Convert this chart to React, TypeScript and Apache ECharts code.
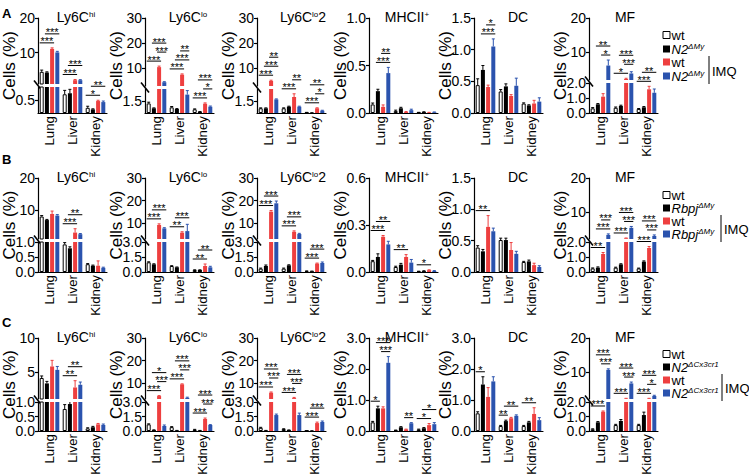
import { useEffect, useRef } from "react";
import * as echarts from "echarts";

type Sig = [number, number, string];
type Seg = { min: number; max: number; ticks: number[] };
type Panel = {
  title: [string, string, string];
  mean: number[][];
  err: number[][];
  sig: Sig[][];
  low: Seg;
  high?: Seg;
  lowH?: number;
};

const ORGANS = ["Lung", "Liver", "Kidney"];
// group order in every panel: wt, knockout, wt + IMQ, knockout + IMQ
const FILL = ["#ffffff", "#000000", "#ee3f3f", "#2b53ae"];
const STROKE = ["#000000", "#000000", "#ee3f3f", "#2b53ae"];

// tick labels
const hiLowTicks = [0, 0.5, 1.0];
const hiHighTicks = [10, 20];
const hiHighTicksC = [5, 10];
const loLowTicks = [0, 1.5, 3.0];
const loHighTicks = [10, 20, 30];
const mfLowTicks = [0, 1.0, 2.0];
const mfHighTicks = [10, 20];
const mhcTicksA = [0, 0.5, 1.0];
const mhcTicksB = [0, 0.3, 0.6];
const mhcTicksC = [0, 1.0, 2.0, 3.0];
const dcTicksAB = [0, 0.5, 1.0, 1.5];
const dcTicksC = [0, 1.0, 2.0, 3.0];

// ---- A: N2ΔMy ----
const aHiMean = [[4.5, 4.3, 11.1, 10.1], [0.72, 0.76, 2.1, 2.1], [0.2, 0.14, 0.46, 0.42]];
const aHiErr = [[0.5, 0.2, 0.3, 0.3], [0.15, 0.15, 0.2, 0.15], [0.06, 0.02, 0.03, 0.04]];
const aHiSig: Sig[][] = [[[0, 2, "***"], [1, 3, "***"]], [[0, 2, "***"], [1, 3, "***"]], [[0, 2, "*"], [1, 3, "**"]]];

const aLoMean = [[1.2, 0.59, 10.5, 4.5], [0.71, 0.5, 7.5, 2.3], [0.46, 0.16, 1.16, 0.79]];
const aLoErr = [[0.15, 0.05, 0.4, 0.2], [0.1, 0.05, 0.3, 0.5], [0.05, 0.02, 0.1, 0.08]];
const aLoSig: Sig[][] = [[[0, 2, "***"], [2, 3, "***"], [1, 3, "***"]], [[0, 2, "***"], [1, 3, "***"], [2, 3, "**"]], [[0, 2, "***"], [2, 3, "*"], [1, 3, "***"]]];

const aLo2Mean = [[0.59, 0.59, 5.0, 1.7], [0.59, 0.79, 2.0, 0.79], [0.06, 0.03, 0.59, 0.29]];
const aLo2Err = [[0.05, 0.05, 0.3, 0.06], [0.05, 0.06, 0.4, 0.06], [0.02, 0.01, 0.06, 0.05]];
const aLo2Sig: Sig[][] = [[[0, 2, "***"], [1, 3, "***"], [2, 3, "**"]], [[0, 2, "***"], [2, 3, "**"]], [[0, 2, "***"], [2, 3, "*"], [1, 3, "**"]]];

const aMhcMean = [[0.09, 0.23, 0.065, 0.42], [0.02, 0.05, 0.01, 0.03], [0.005, 0.01, 0.005, 0.008]];
const aMhcErr = [[0.015, 0.02, 0.02, 0.06], [0.01, 0.01, 0.005, 0.01], [0.002, 0.003, 0.002, 0.003]];
const aMhcSig: Sig[][] = [[[1, 3, "***"], [2, 3, "**"]], [], []];

const aDcMean = [[0.44, 0.68, 0.41, 1.05], [0.34, 0.42, 0.27, 0.43], [0.15, 0.12, 0.15, 0.18]];
const aDcErr = [[0.1, 0.07, 0.03, 0.12], [0.03, 0.04, 0.02, 0.12], [0.01, 0.01, 0.05, 0.06]];
const aDcSig: Sig[][] = [[[1, 3, "***"], [2, 3, "*"]], [], []];

const aMfMean = [[0.31, 0.58, 1.09, 6.2], [0.35, 0.47, 2.3, 3.9], [0.27, 0.38, 1.58, 1.35]];
const aMfErr = [[0.05, 0.05, 0.2, 1.6], [0.05, 0.05, 0.2, 0.5], [0.03, 0.05, 0.2, 0.25]];
const aMfSig: Sig[][] = [[[2, 3, "*"], [1, 3, "**"]], [[0, 2, "*"], [2, 3, "***"], [1, 3, "***"]], [[0, 2, "***"], [1, 3, "**"]]];

// ---- B: RbpjΔMy ----
const bHiMean = [[8.0, 6.9, 8.8, 8.3], [0.92, 0.79, 3.0, 2.5], [0.26, 0.21, 0.21, 0.14]];
const bHiErr = [[0.3, 0.2, 0.9, 0.3], [0.06, 0.05, 1.2, 0.2], [0.02, 0.02, 0.16, 0.02]];
const bHiSig: Sig[][] = [[], [[0, 2, "***"], [1, 3, "**"]], []];

const bLoMean = [[0.97, 0.77, 9.2, 7.7], [0.6, 0.47, 5.8, 6.5], [0.2, 0.2, 0.6, 0.47]];
const bLoErr = [[0.05, 0.05, 0.5, 0.3], [0.03, 0.03, 0.4, 3.0], [0.02, 0.02, 0.2, 0.1]];
const bLoSig: Sig[][] = [[[0, 2, "***"], [1, 3, "***"]], [[0, 2, "**"], [1, 3, "***"]], [[0, 2, "**"], [1, 3, "**"]]];

const bLo2Mean = [[0.34, 0.6, 15.1, 18.8], [0.34, 0.67, 6.2, 5.2], [0.1, 0.08, 0.84, 0.9]];
const bLo2Err = [[0.05, 0.1, 0.5, 1.0], [0.05, 0.05, 0.4, 0.3], [0.01, 0.01, 0.05, 0.1]];
const bLo2Sig: Sig[][] = [[[0, 2, "***"], [1, 3, "***"]], [[0, 2, "***"], [1, 3, "***"]], [[0, 2, "***"], [1, 3, "***"]]];

const bMhcMean = [[0.069, 0.096, 0.225, 0.176], [0.032, 0.047, 0.096, 0.06], [0.004, 0.006, 0.012, 0.007]];
const bMhcErr = [[0.005, 0.02, 0.008, 0.02], [0.005, 0.008, 0.015, 0.02], [0.001, 0.002, 0.002, 0.002]];
const bMhcSig: Sig[][] = [[[0, 2, "***"], [1, 3, "**"]], [[0, 2, "**"]], [[0, 2, "*"]]];

const bDcMean = [[0.39, 0.33, 0.72, 0.65], [0.51, 0.51, 0.35, 0.29], [0.16, 0.17, 0.11, 0.08]];
const bDcErr = [[0.03, 0.03, 0.18, 0.05], [0.03, 0.03, 0.12, 0.04], [0.01, 0.02, 0.03, 0.02]];
const bDcSig: Sig[][] = [[[0, 2, "**"]], [], []];

const bMfMean = [[0.24, 0.29, 1.2, 3.2], [0.29, 0.51, 2.2, 5.3], [0.24, 0.69, 1.6, 2.9]];
const bMfErr = [[0.03, 0.05, 0.1, 0.3], [0.03, 0.04, 0.1, 0.4], [0.02, 0.05, 0.1, 0.3]];
const bMfSig: Sig[][] = [[[0, 2, "**"], [1, 3, "***"], [2, 3, "***"]], [[0, 2, "***"], [2, 3, "***"], [1, 3, "***"]], [[0, 2, "***"], [2, 3, "***"], [1, 3, "***"]]];

// ---- C: N2ΔCx3cr1 ----
const cHiMean = [[4.1, 3.3, 5.8, 5.3], [0.76, 0.93, 2.7, 3.1], [0.09, 0.13, 0.23, 0.21]];
const cHiErr = [[0.3, 0.3, 0.9, 0.5], [0.15, 0.2, 1.0, 0.4], [0.02, 0.03, 0.03, 0.03]];
const cHiSig: Sig[][] = [[], [[0, 2, "**"], [1, 3, "**"]], []];

const cLoMean = [[0.69, 0.1, 4.3, 0.52], [0.4, 0.05, 9.5, 3.5], [0.15, 0.05, 1.24, 0.62]];
const cLoErr = [[0.05, 0.02, 0.2, 0.1], [0.05, 0.01, 0.2, 0.3], [0.02, 0.01, 0.1, 0.04]];
const cLoSig: Sig[][] = [[[0, 2, "***"], [2, 3, "***"], [1, 3, "*"]], [[0, 2, "***"], [2, 3, "***"], [1, 3, "***"]], [[0, 2, "***"], [2, 3, "***"], [1, 3, "***"]]];

const cLo2Mean = [[0.33, 0.05, 5.8, 1.65], [0.2, 0.1, 3.4, 1.65], [0.02, 0.02, 0.82, 0.93]];
const cLo2Err = [[0.05, 0.01, 0.3, 0.1], [0.03, 0.01, 0.3, 0.2], [0.01, 0.01, 0.1, 0.1]];
const cLo2Sig: Sig[][] = [[[0, 2, "***"], [2, 3, "***"], [1, 3, "***"]], [[0, 2, "***"], [2, 3, "***"], [1, 3, "***"]], [[0, 2, "***"], [1, 3, "***"]]];

const cMhcMean = [[0.28, 0.73, 0.73, 2.2], [0.02, 0.12, 0.05, 0.25], [0.05, 0.09, 0.19, 0.22]];
const cMhcErr = [[0.03, 0.07, 0.05, 0.2], [0.01, 0.02, 0.01, 0.02], [0.01, 0.02, 0.05, 0.05]];
const cMhcSig: Sig[][] = [[[0, 1, "*"], [2, 3, "***"], [1, 3, "***"]], [[2, 3, "**"]], [[0, 2, "*"], [1, 3, "*"]]];

const cDcMean = [[0.57, 1.5, 1.1, 1.6], [0.16, 0.32, 0.41, 0.49], [0.16, 0.28, 0.55, 0.35]];
const cDcErr = [[0.05, 0.25, 0.3, 0.15], [0.02, 0.03, 0.03, 0.03], [0.02, 0.03, 0.2, 0.08]];
const cDcSig: Sig[][] = [[[0, 1, "*"]], [[0, 1, "**"], [1, 3, "**"]], [[0, 2, "**"]]];

const cMfMean = [[0.12, 0.6, 1.33, 10.6], [0.41, 0.69, 2.1, 6.6], [0.41, 1.1, 2.1, 2.9]];
const cMfErr = [[0.03, 0.05, 0.05, 0.3], [0.05, 0.1, 0.1, 0.4], [0.05, 0.2, 0.1, 0.2]];
const cMfSig: Sig[][] = [[[0, 2, "***"], [2, 3, "***"], [1, 3, "***"]], [[0, 2, "***"], [2, 3, "***"], [1, 3, "***"]], [[0, 2, "***"], [2, 3, "*"], [1, 3, "***"]]];

const HI: [string, string, string] = ["Ly6C", "hi", ""];
const LO: [string, string, string] = ["Ly6C", "lo", ""];
const LO2: [string, string, string] = ["Ly6C", "lo", "2"];
const MHC: [string, string, string] = ["MHCII", "+", ""];
const DC: [string, string, string] = ["DC", "", ""];
const MF: [string, string, string] = ["MF", "", ""];

const PANELS: Panel[] = [
  { title: HI, mean: aHiMean, err: aHiErr, sig: aHiSig, low: { min: 0, max: 1, ticks: hiLowTicks }, high: { min: 1, max: 20, ticks: hiHighTicks }, lowH: 26 },
  { title: LO, mean: aLoMean, err: aLoErr, sig: aLoSig, low: { min: 0, max: 3, ticks: loLowTicks }, high: { min: 3, max: 30, ticks: loHighTicks }, lowH: 24 },
  { title: LO2, mean: aLo2Mean, err: aLo2Err, sig: aLo2Sig, low: { min: 0, max: 3, ticks: loLowTicks }, high: { min: 3, max: 30, ticks: loHighTicks }, lowH: 24 },
  { title: MHC, mean: aMhcMean, err: aMhcErr, sig: aMhcSig, low: { min: 0, max: 1, ticks: mhcTicksA } },
  { title: DC, mean: aDcMean, err: aDcErr, sig: aDcSig, low: { min: 0, max: 1.5, ticks: dcTicksAB } },
  { title: MF, mean: aMfMean, err: aMfErr, sig: aMfSig, low: { min: 0, max: 2, ticks: mfLowTicks }, high: { min: 2, max: 20, ticks: mfHighTicks }, lowH: 30 },

  { title: HI, mean: bHiMean, err: bHiErr, sig: bHiSig, low: { min: 0, max: 1, ticks: hiLowTicks }, high: { min: 1, max: 20, ticks: hiHighTicks }, lowH: 30 },
  { title: LO, mean: bLoMean, err: bLoErr, sig: bLoSig, low: { min: 0, max: 3, ticks: loLowTicks }, high: { min: 3, max: 30, ticks: loHighTicks }, lowH: 30 },
  { title: LO2, mean: bLo2Mean, err: bLo2Err, sig: bLo2Sig, low: { min: 0, max: 3, ticks: loLowTicks }, high: { min: 3, max: 30, ticks: loHighTicks }, lowH: 30 },
  { title: MHC, mean: bMhcMean, err: bMhcErr, sig: bMhcSig, low: { min: 0, max: 0.6, ticks: mhcTicksB } },
  { title: DC, mean: bDcMean, err: bDcErr, sig: bDcSig, low: { min: 0, max: 1.5, ticks: dcTicksAB } },
  { title: MF, mean: bMfMean, err: bMfErr, sig: bMfSig, low: { min: 0, max: 2, ticks: mfLowTicks }, high: { min: 2, max: 20, ticks: mfHighTicks }, lowH: 30 },

  { title: HI, mean: cHiMean, err: cHiErr, sig: cHiSig, low: { min: 0, max: 1, ticks: hiLowTicks }, high: { min: 1, max: 10, ticks: hiHighTicksC }, lowH: 29 },
  { title: LO, mean: cLoMean, err: cLoErr, sig: cLoSig, low: { min: 0, max: 3, ticks: loLowTicks }, high: { min: 3, max: 30, ticks: loHighTicks }, lowH: 29 },
  { title: LO2, mean: cLo2Mean, err: cLo2Err, sig: cLo2Sig, low: { min: 0, max: 3, ticks: loLowTicks }, high: { min: 3, max: 30, ticks: loHighTicks }, lowH: 29 },
  { title: MHC, mean: cMhcMean, err: cMhcErr, sig: cMhcSig, low: { min: 0, max: 3, ticks: mhcTicksC } },
  { title: DC, mean: cDcMean, err: cDcErr, sig: cDcSig, low: { min: 0, max: 3, ticks: dcTicksC } },
  { title: MF, mean: cMfMean, err: cMfErr, sig: cMfSig, low: { min: 0, max: 2, ticks: mfLowTicks }, high: { min: 2, max: 20, ticks: mfHighTicks }, lowH: 29 },
];

const ROW_LETTERS = ["A", "B", "C"];
const KO_LABELS: [string, string][] = [["N2", "ΔMy"], ["Rbpj", "ΔMy"], ["N2", "ΔCx3cr1"]];

// layout
const FONT = '"Liberation Sans", Arial, Helvetica, sans-serif';
const COL_LEFT = [38, 145, 257, 369, 474, 589];
const TITLE_DX = [38, 43, 46, 38, 44, 36];
const ROW_TOP = [18, 178, 338];
const ROW_BOTTOM = [113, 272, 431];
const LETTER_Y = [13, 159, 322];
const PLOT_W = 69;
const GAP = 3;
const BAR_W = 4;
const BAR_STEP = BAR_W * 1.3;
const barOffset = (g: number) => (g - 1.5) * BAR_STEP;
const LEG_X = 663;
const LEG_Y = [[35, 49, 62, 76], [195, 208, 221, 234], [354, 367, 380, 393]];
const IMQ_X = [709, 721, 722];

type Layout = { lowIdx: number; highIdx: number; r: number; c: number };

function buildOption() {
  const grid: any[] = [];
  const xAxis: any[] = [];
  const yAxis: any[] = [];
  const series: any[] = [];
  const layout: Layout[] = [];

  const addPair = (left: number, gTop: number, gBottom: number, seg: Seg, base: boolean, upper: boolean) => {
    const idx = grid.length;
    grid.push({ left, top: gTop, width: PLOT_W, height: gBottom - gTop, containLabel: false, outerBoundsMode: "none" });
    xAxis.push({
      type: "category",
      gridIndex: idx,
      data: ORGANS,
      axisLine: { show: base, onZero: false, lineStyle: { color: "#000", width: 1.2 } },
      axisTick: { show: false },
      axisLabel: { show: base, rotate: 90, margin: 3, fontSize: 13.3, color: "#000", fontFamily: FONT, interval: 0 },
      splitLine: { show: false },
    });
    yAxis.push({
      type: "value",
      gridIndex: idx,
      min: seg.min,
      max: seg.max,
      axisLine: { show: true, lineStyle: { color: "#000", width: 1.2 } },
      axisTick: { show: true, length: 3, customValues: seg.ticks, lineStyle: { color: "#000", width: 1.2 } },
      axisLabel: {
        show: true,
        customValues: seg.ticks,
        margin: 3,
        fontSize: 14,
        color: "#000",
        fontFamily: FONT,
        formatter: (v: number) => (upper ? String(Math.round(v)) : v.toFixed(1)),
      },
      splitLine: { show: false },
    });
    return idx;
  };

  const barSeries = (idx: number, g: number, data: any[]) => ({
    type: "bar",
    xAxisIndex: idx,
    yAxisIndex: idx,
    data,
    barWidth: BAR_W,
    barGap: "30%",
    clip: true,
    silent: true,
    z: 2,
    itemStyle: { color: FILL[g], borderColor: STROKE[g], borderWidth: g === 0 ? 1 : 0 },
  });

  const errSeries = (idx: number, items: number[][]) => ({
    type: "custom",
    xAxisIndex: idx,
    yAxisIndex: idx,
    data: items,
    encode: { x: 0, y: 2 },
    clip: true,
    silent: true,
    z: 3,
    renderItem: (_p: any, api: any) => {
      const cat = api.value(0);
      const g = api.value(1);
      const m = api.value(2);
      const e = api.value(3);
      const base = api.coord([cat, m]);
      const tip = api.coord([cat, m + e]);
      const x = base[0] + barOffset(g);
      const stroke = STROKE[g];
      return {
        type: "group",
        children: [
          { type: "line", shape: { x1: x, y1: base[1], x2: x, y2: tip[1] }, style: { stroke, lineWidth: 1 } },
          { type: "line", shape: { x1: x - 1.5, y1: tip[1], x2: x + 1.5, y2: tip[1] }, style: { stroke, lineWidth: 1 } },
        ],
      };
    },
  });

  PANELS.forEach((p, pi) => {
    const r = Math.floor(pi / 6);
    const c = pi % 6;
    const left = COL_LEFT[c];
    const top = ROW_TOP[r];
    const bottom = ROW_BOTTOM[r];
    let lowIdx: number;
    let highIdx = -1;
    if (p.high) {
      const lh = p.lowH || 28;
      lowIdx = addPair(left, bottom - lh, bottom, p.low, true, false);
      highIdx = addPair(left, top, bottom - lh - GAP, p.high, false, true);
    } else {
      lowIdx = addPair(left, top, bottom, p.low, true, false);
    }
    for (let g = 0; g < 4; g++) {
      series.push(barSeries(lowIdx, g, p.mean.map((row) => row[g])));
      if (highIdx >= 0) {
        series.push(barSeries(highIdx, g, p.mean.map((row) => (row[g] > p.low.max ? row[g] : "-"))));
      }
    }
    const lowItems: number[][] = [];
    const highItems: number[][] = [];
    p.mean.forEach((row, o) =>
      row.forEach((m, g) => {
        const item = [o, g, m, p.err[o][g]];
        if (highIdx >= 0 && m > p.low.max) highItems.push(item);
        else lowItems.push(item);
      })
    );
    series.push(errSeries(lowIdx, lowItems));
    if (highIdx >= 0) series.push(errSeries(highIdx, highItems));
    layout.push({ lowIdx, highIdx, r, c });
  });

  return {
    option: { animation: false, backgroundColor: "#ffffff", grid, xAxis, yAxis, series },
    layout,
  };
}

function titleRich(t: [string, string, string]) {
  let s = `{m|${t[0]}}`;
  if (t[1]) s += `{s|${t[1]}}`;
  if (t[2]) s += `{m|${t[2]}}`;
  return s;
}

function buildGraphics(chart: echarts.ECharts, layout: Layout[]) {
  const els: any[] = [];
  const px = (idx: number, o: number, v: number) =>
    chart.convertToPixel({ xAxisIndex: idx, yAxisIndex: idx } as any, [o, v]) as unknown as number[];

  PANELS.forEach((p, pi) => {
    const L = layout[pi];
    const left = COL_LEFT[L.c];
    const top = ROW_TOP[L.r];
    const bottom = ROW_BOTTOM[L.r];

    // panel title
    els.push({
      type: "text",
      x: left + TITLE_DX[L.c],
      y: top - 1,
      silent: true,
      style: {
        text: titleRich(p.title),
        align: "center",
        verticalAlign: "middle",
        rich: {
          m: { fontSize: 14, fontFamily: FONT, fill: "#000" },
          s: { fontSize: 8, fontFamily: FONT, fill: "#000", verticalAlign: "top" },
        },
      },
    });

    // y-axis name
    els.push({
      type: "text",
      x: left - 29,
      y: (top + bottom) / 2,
      rotation: Math.PI / 2,
      silent: true,
      style: { text: "Cells (%)", fontSize: 17, fontFamily: FONT, fill: "#000", align: "center", verticalAlign: "middle" },
    });

    // axis break mark
    if (L.highIdx >= 0) {
      const by = bottom - (p.lowH || 28) - GAP / 2;
      els.push({
        type: "line",
        silent: true,
        shape: { x1: left - 4, y1: by - 5, x2: left + 4, y2: by + 5 },
        style: { stroke: "#000", lineWidth: 1.6 },
      });
    }

    const topOf = (o: number, g: number) => {
      const m = p.mean[o][g];
      const e = p.err[o][g];
      if (L.highIdx >= 0 && p.high && m > p.low.max) return px(L.highIdx, o, Math.min(m + e, p.high.max))[1];
      return px(L.lowIdx, o, Math.min(m + e, p.low.max))[1];
    };
    const xOf = (o: number, g: number) => px(L.lowIdx, o, 0)[0] + barOffset(g);

    // significance brackets
    p.sig.forEach((list, o) => {
      let prev = Infinity;
      list.forEach(([i, j, label], k) => {
        let y = Infinity;
        for (let g = i; g <= j; g++) y = Math.min(y, topOf(o, g));
        y -= 5;
        if (k > 0) y = Math.min(y, prev - 9);
        prev = y;
        const x1 = xOf(o, i) - 2;
        const x2 = xOf(o, j) + 2;
        els.push({ type: "line", silent: true, shape: { x1, y1: y, x2, y2: y }, style: { stroke: "#000", lineWidth: 1 } });
        els.push({
          type: "text",
          silent: true,
          x: (x1 + x2) / 2,
          y: y - 1.5,
          style: { text: label, fontSize: 11, fontFamily: FONT, fill: "#000", align: "center", verticalAlign: "middle" },
        });
      });
    });
  });

  // row letters and legends
  ROW_LETTERS.forEach((letter, r) => {
    els.push({
      type: "text",
      silent: true,
      x: 2,
      y: LETTER_Y[r],
      style: { text: letter, fontSize: 13, fontWeight: "bold", fontFamily: FONT, fill: "#000", align: "left", verticalAlign: "middle" },
    });
    const ys = LEG_Y[r];
    const [koMain, koSup] = KO_LABELS[r];
    const labels = ["{t|wt}", `{i|${koMain}}{s|${koSup}}`, "{t|wt}", `{i|${koMain}}{s|${koSup}}`];
    ys.forEach((y, g) => {
      els.push({
        type: "rect",
        silent: true,
        shape: { x: LEG_X, y: y - 3.5, width: 7, height: 7 },
        style: { fill: FILL[g], stroke: STROKE[g], lineWidth: g === 0 ? 1 : 0 },
      });
      els.push({
        type: "text",
        silent: true,
        x: LEG_X + 8.5,
        y,
        style: {
          text: labels[g],
          align: "left",
          verticalAlign: "middle",
          rich: {
            t: { fontSize: 13, fontFamily: FONT, fill: "#000" },
            i: { fontSize: 13, fontFamily: FONT, fontStyle: "italic", fill: "#000" },
            s: { fontSize: 8, fontFamily: FONT, fontStyle: "italic", fill: "#000", verticalAlign: "top" },
          },
        },
      });
    });
    els.push({
      type: "line",
      silent: true,
      shape: { x1: IMQ_X[r], y1: ys[2] - 6, x2: IMQ_X[r], y2: ys[3] + 8 },
      style: { stroke: "#000", lineWidth: 1 },
    });
    els.push({
      type: "text",
      silent: true,
      x: IMQ_X[r] + 3,
      y: (ys[2] + ys[3]) / 2 + 2,
      style: { text: "IMQ", fontSize: 13, fontFamily: FONT, fill: "#000", align: "left", verticalAlign: "middle" },
    });
  });

  return els;
}

export default function App() {
  const ref = useRef<HTMLDivElement>(null);

  useEffect(() => {
    document.body.style.margin = "0";
    const el = ref.current;
    if (!el) return;
    const chart = echarts.init(el, null, { renderer: "svg" });
    const { option, layout } = buildOption();
    chart.setOption(option as any);
    chart.setOption({ graphic: { elements: buildGraphics(chart, layout) } } as any);
    return () => {
      chart.dispose();
    };
  }, []);

  return <div ref={ref} style={{ width: 749, height: 475, background: "#fff" }} />;
}
